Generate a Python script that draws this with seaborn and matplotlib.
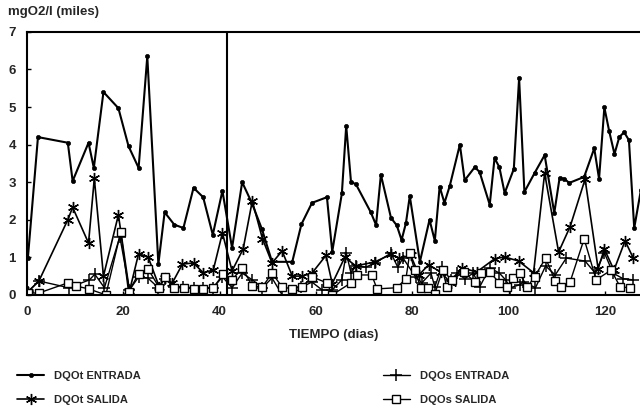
import matplotlib
matplotlib.use("Agg")
import matplotlib.pyplot as plt
import seaborn as sns

# DQOt ENTRADA
dias_dqot_ent = [0.2, 2.3, 8.5, 9.5, 12.8, 13.9, 15.9, 19.0, 21.1, 23.2, 25.0, 27.3,
                 28.6, 30.6, 32.5, 34.6, 36.6, 38.6, 40.6, 42.6, 44.7, 46.7, 48.8, 50.9,
                 55.1, 57.0, 59.2, 62.3, 63.4, 65.4, 66.3, 67.3, 68.3, 71.4, 72.5, 73.5,
                 75.6, 76.8, 77.8, 78.7, 79.5, 81.6, 83.6, 84.7, 85.7, 86.7, 87.8, 89.9,
                 90.9, 93.0, 94.0, 96.1, 97.1, 98.1, 99.2, 101.1, 102.2, 103.3, 105.4,
                 107.5, 109.5, 110.6, 111.6, 112.6, 115.7, 117.8, 118.8, 119.9, 120.9,
                 122.0, 123.0, 124.0, 125.0, 126.1, 127.5]
dqot_ent = [0.97, 4.2, 4.05, 3.03, 4.05, 3.38, 5.4, 4.97, 3.96, 3.38, 6.35, 0.82,
            2.2, 1.87, 1.78, 2.85, 2.6, 1.6, 2.77, 1.25, 3.0, 2.45, 1.75, 0.88,
            0.88, 1.88, 2.45, 2.6, 1.15, 2.7, 4.5, 3.0, 2.95, 2.2, 1.86, 3.2,
            2.05, 1.85, 1.46, 1.91, 2.63, 0.88, 2.0, 1.44, 2.88, 2.45, 2.9, 4.0,
            3.05, 3.4, 3.27, 2.4, 3.64, 3.4, 2.71, 3.35, 5.77, 2.74, 3.24,
            3.72, 2.18, 3.11, 3.09, 2.98, 3.14, 3.9, 3.09, 4.99, 4.36,
            3.75, 4.2, 4.33, 4.12, 1.78, 2.8]

# DQOt SALIDA
dias_dqot_sal = [0.2, 2.5, 8.5, 9.5, 12.8, 14.0, 15.9, 19.0, 21.3, 23.2, 25.2, 27.5,
                 28.6, 30.2, 32.3, 34.6, 36.6, 38.7, 40.6, 42.6, 44.9, 46.8, 48.9, 50.9,
                 53.0, 55.1, 57.1, 59.2, 62.1, 63.4, 66.0, 68.3, 72.3, 75.6, 77.2, 79.7,
                 81.4, 83.4, 85.9, 88.0, 90.3, 93.4, 97.1, 99.2, 102.1, 105.2, 107.5,
                 110.4, 112.8, 115.9, 118.6, 119.9, 121.9, 124.2, 125.9]
dqot_sal = [0.08, 0.37, 2.0, 2.33, 1.38, 3.1, 0.5, 2.13, 0.1, 1.1, 1.0, 0.21,
            0.45, 0.32, 0.82, 0.85, 0.59, 0.66, 1.65, 0.64, 1.22, 2.5, 1.5, 0.85,
            1.17, 0.5, 0.5, 0.58, 1.05, 0.3, 1.0, 0.77, 0.88, 1.08, 0.98, 1.05,
            0.53, 0.8, 0.61, 0.32, 0.72, 0.61, 0.96, 1.01, 0.9, 0.59, 3.24,
            1.14, 1.82, 3.08, 0.7, 1.22, 0.66, 1.44, 0.98]

# DQOs ENTRADA
dias_dqos_ent = [0.2, 2.5, 8.7, 13.0, 14.1, 16.1, 19.3, 21.3, 23.2, 25.1, 27.3, 28.6,
                 30.6, 32.5, 34.6, 36.6, 38.7, 40.6, 42.6, 44.7, 46.8, 48.9, 50.9, 53.0,
                 55.1, 57.0, 59.2, 61.3, 63.4, 65.4, 66.3, 67.3, 68.3, 70.4, 72.3, 75.6,
                 77.0, 78.1, 80.7, 82.0, 83.9, 84.7, 86.1, 88.0, 89.4, 90.9, 92.7, 94.0,
                 96.1, 98.1, 99.4, 100.4, 102.3, 103.1, 105.6, 107.7, 109.7, 112.0,
                 115.9, 118.0, 119.9, 121.7, 123.8, 125.9]
dqos_ent = [0.08, 0.37, 0.19, 0.4, 0.55, 0.19, 1.55, 0.13, 0.48, 0.45, 0.19, 0.43,
            0.21, 0.21, 0.19, 0.19, 0.19, 0.48, 0.19, 0.58, 0.4, 0.19, 0.45, 0.0,
            0.0, 0.21, 0.34, 0.13, 0.13, 0.4, 1.12, 0.58, 0.77, 0.74, 0.85, 1.11,
            0.74, 0.98, 0.48, 0.32, 0.58, 0.21, 0.74, 0.4, 0.58, 0.43, 0.58, 0.21,
            0.72, 0.58, 0.4, 0.19, 0.27, 0.35, 0.19, 0.77, 0.53, 0.98,
            0.9, 0.58, 1.12, 0.58, 0.43, 0.4]

# DQOs SALIDA
dias_dqos_sal = [0.2, 2.5, 8.5, 10.1, 12.8, 16.4, 19.5, 21.1, 23.2, 25.2, 27.5, 28.6,
                 30.6, 32.7, 34.6, 36.6, 38.7, 40.8, 42.6, 44.7, 46.8, 48.9, 50.9, 53.0,
                 55.1, 57.1, 59.2, 62.3, 63.4, 67.3, 68.5, 71.6, 72.7, 76.8, 78.7, 79.5,
                 80.5, 81.8, 83.2, 84.7, 86.3, 87.2, 88.2, 90.7, 93.0, 94.2, 96.1, 98.1,
                 99.6, 101.0, 102.3, 103.9, 105.4, 107.7, 109.7, 110.8, 112.8, 115.7,
                 118.2, 121.3, 123.2, 125.3]
dqos_sal = [0.05, 0.05, 0.32, 0.24, 0.16, 0.0, 1.68, 0.08, 0.56, 0.68, 0.19, 0.48,
            0.19, 0.19, 0.16, 0.16, 0.19, 0.56, 0.4, 0.72, 0.24, 0.21, 0.58, 0.21,
            0.16, 0.21, 0.48, 0.32, 0.0, 0.32, 0.53, 0.53, 0.16, 0.19, 0.43, 1.12,
            0.66, 0.19, 0.19, 0.03, 0.66, 0.21, 0.4, 0.61, 0.35, 0.58, 0.61, 0.32,
            0.21, 0.45, 0.58, 0.21, 0.48, 0.98, 0.37, 0.21, 0.35, 1.49,
            0.4, 0.66, 0.21, 0.19]

x_ticks = [0, 20, 40, 60, 80, 100, 120]
y_ticks = [0, 1, 2, 3, 4, 5, 6, 7]
linea_vertical = 41.6

sns.set_style("ticks")
plt.rcParams['font.family'] = ['Liberation Sans', 'DejaVu Sans']
plt.rcParams['font.weight'] = 'bold'

fig = plt.figure(figsize=(6.4, 4.09), dpi=100)
ax = fig.add_axes([0.042, 0.279, 0.958, 0.643])

asterisco = (6, 2, 0)
comun = dict(ax=ax, color='black', markeredgecolor='black', sort=False)
sns.lineplot(x=dias_dqot_ent, y=dqot_ent, lw=1.5, marker='o', markersize=3,
             markeredgewidth=0.5, label='DQOt ENTRADA', **comun)
sns.lineplot(x=dias_dqot_sal, y=dqot_sal, lw=1.2, marker=asterisco, markersize=8,
             markeredgewidth=1.0, label='DQOt SALIDA', **comun)
sns.lineplot(x=dias_dqos_ent, y=dqos_ent, lw=1.0, marker='+', markersize=9,
             markeredgewidth=1.1, label='DQOs ENTRADA', **comun)
sns.lineplot(x=dias_dqos_sal, y=dqos_sal, lw=1.0, marker='s', markersize=6,
             markerfacecolor='white', markeredgewidth=1.0, label='DQOs SALIDA', **comun)

ax.axvline(linea_vertical, color='black', lw=1.5)

ax.set_xlim(0, 127.3)
ax.set_ylim(0, 7)
ax.set_xticks(x_ticks)
ax.set_yticks(y_ticks)
ax.tick_params(direction='in', length=3, width=1, labelsize=9.5, pad=8, color='black')
for lab in ax.get_xticklabels() + ax.get_yticklabels():
    lab.set_fontweight('bold')
for s in ['left', 'bottom', 'top']:
    ax.spines[s].set_color('black')
    ax.spines[s].set_linewidth(1.5)
ax.spines['right'].set_visible(False)

ax.set_xlabel('TIEMPO (dias)', fontsize=9.5, fontweight='bold', labelpad=8)
ax.set_ylabel('')
fig.text(0.013, 0.955, 'mgO2/l (miles)', fontsize=9.5, fontweight='bold', ha='left', va='bottom')

handles, labels = ax.get_legend_handles_labels()
ax.get_legend().remove()
fig.legend(handles, labels, ncol=2, loc='upper left', bbox_to_anchor=(0.027, 0.094),
           frameon=False, fontsize=8, handlelength=2.4, handletextpad=0.9,
           columnspacing=21.8, labelspacing=1.3, borderaxespad=0, borderpad=0)

fig.savefig('out.png', dpi=100)
